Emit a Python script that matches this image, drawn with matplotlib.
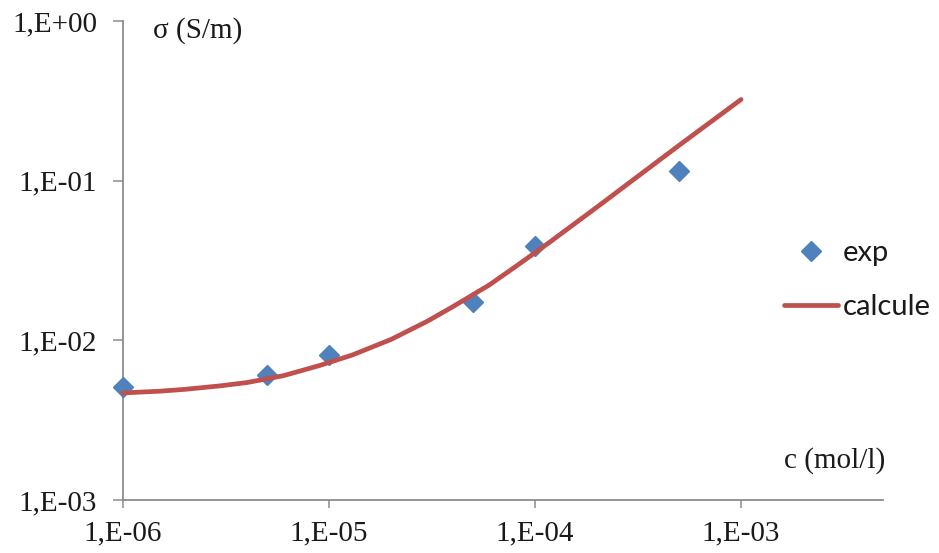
import matplotlib
matplotlib.use("Agg")
import matplotlib.pyplot as plt
from matplotlib.ticker import FixedLocator, FixedFormatter, NullLocator

# Experimental points
c_exp = [1e-6, 5e-6, 1e-5, 5e-5, 1e-4, 5e-4]
sigma_exp = [0.0051, 0.00603, 0.0081, 0.01727, 0.039, 0.115]

# Calculated curve
c_calc = [1e-6, 1.5e-6, 2e-6, 3e-6, 4e-6, 6e-6, 9e-6, 1.3e-5, 2e-5, 3e-5,
          4e-5, 6e-5, 8e-5, 1.2e-4, 2e-4, 5e-4, 1e-3]
sigma_calc = [0.004684, 0.004801, 0.004933, 0.005196, 0.005441, 0.006003,
              0.006955, 0.008101, 0.010130, 0.013168, 0.016277, 0.022226,
              0.028819, 0.041912, 0.06836, 0.1664, 0.3225]

x_ticks = [1e-6, 1e-5, 1e-4, 1e-3]
x_tick_labels = ["1,E-06", "1,E-05", "1,E-04", "1,E-03"]
y_ticks = [1e-3, 1e-2, 1e-1, 1e0]
y_tick_labels = ["1,E-03", "1,E-02", "1,E-01", "1,E+00"]

W, H = 939, 553
fig = plt.figure(figsize=(W / 100, H / 100), dpi=100)
ax = fig.add_axes([123 / W, 53 / H, 760 / W, 479 / H])

ax.plot(c_exp, sigma_exp, linestyle="none", marker="D", markersize=10,
        color="#4F81BD", label="exp", zorder=3)
ax.plot(c_calc, sigma_calc, color="#C0504D", linewidth=3.4,
        solid_capstyle="round", solid_joinstyle="round", label="calcule", zorder=4)

ax.set_xscale("log")
ax.set_yscale("log")
ax.set_xlim(1e-6, 10 ** -2.311)
ax.set_ylim(1e-3, 1e0)

ax.xaxis.set_major_locator(FixedLocator(x_ticks))
ax.xaxis.set_major_formatter(FixedFormatter(x_tick_labels))
ax.yaxis.set_major_locator(FixedLocator(y_ticks))
ax.yaxis.set_major_formatter(FixedFormatter(y_tick_labels))
ax.xaxis.set_minor_locator(NullLocator())
ax.yaxis.set_minor_locator(NullLocator())

for side in ["top", "right"]:
    ax.spines[side].set_visible(False)
for side in ["left", "bottom"]:
    ax.spines[side].set_color("#8C8C8C")
    ax.spines[side].set_linewidth(1.3)

serif = "Liberation Serif"
ax.tick_params(axis="x", direction="out", length=5.5, width=1.1, color="#8C8C8C",
               pad=9, labelsize=21)
ax.tick_params(axis="y", direction="out", length=7.5, width=1.1, color="#8C8C8C",
               pad=11, labelsize=21)
for lbl in ax.get_xticklabels() + ax.get_yticklabels():
    lbl.set_fontfamily(serif)
    lbl.set_color("#1a1a1a")

for ln in ax.get_lines():
    ln.set_clip_on(False)

fig.text(153 / W, 1 - 31 / H, "σ (S/m)", family=serif, fontsize=21,
         color="#1a1a1a", ha="left", va="center")
fig.text(885 / W, 1 - 461 / H, "c (mol/l)", family=serif, fontsize=21,
         color="#1a1a1a", ha="right", va="center")

leg = fig.legend(loc="center left", bbox_to_anchor=(784 / W, 1 - 280 / H),
                 frameon=False, borderpad=0, borderaxespad=0,
                 handlelength=1.85, handletextpad=0.18, labelspacing=0.97,
                 prop={"family": "Lato", "size": 21})
for t in leg.get_texts():
    t.set_color("#1a1a1a")

fig.savefig("out.png", dpi=100)
